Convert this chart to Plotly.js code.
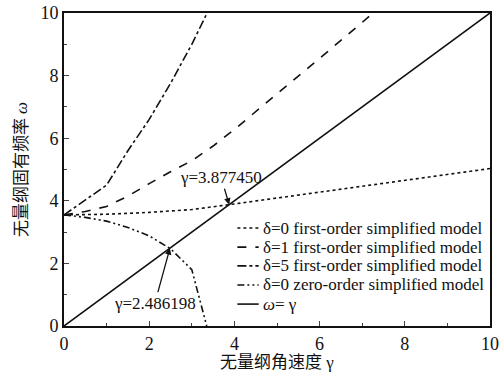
<!DOCTYPE html>
<html>
<head>
<meta charset="utf-8">
<script src="https://cdn.plot.ly/plotly-3.0.1.min.js"></script>
<style>
html,body{margin:0;padding:0;background:#fff;}
#chart{width:499px;height:372px;}
#chart svg text{font-family:"Liberation Serif","Noto Sans CJK SC",serif !important;}
</style>
</head>
<body>
<div id="chart"></div>
<script>
// Data
const gammaD0First = [0, 1, 2, 3, 4, 5, 6, 7, 8, 9, 10];
const omegaD0First = [3.55, 3.57, 3.63, 3.72, 3.9, 4.09, 4.28, 4.47, 4.66, 4.85, 5.03];

const gammaD1First = [0, 0.5, 1, 1.5, 2, 2.5, 3, 3.5, 4, 5, 6, 7, 7.25];
const omegaD1First = [3.55, 3.66, 3.82, 4.15, 4.55, 4.93, 5.28, 5.75, 6.28, 7.4, 8.55, 9.7, 10];

const gammaD5First = [0, 0.5, 1, 1.5, 2, 2.5, 3, 3.36];
const omegaD5First = [3.55, 4.02, 4.5, 5.6, 6.6, 7.75, 9.0, 10];

const gammaD0Zero = [0, 0.5, 1, 1.5, 2, 2.5, 3, 3.35];
const omegaD0Zero = [3.55, 3.47, 3.35, 3.15, 2.88, 2.47, 1.8, 0];

const gammaLine = [0, 10];
const omegaLine = [0, 10];

const seriesNames = [
  "δ=0 first-order simplified model",
  "δ=1 first-order simplified model",
  "δ=5 first-order simplified model",
  "δ=0 zero-order simplified model",
  "<i>ω</i>= γ"
];
const tickValues = [0, 2, 4, 6, 8, 10];
const crossGammaA = 3.877450;
const crossGammaB = 2.486198;
const xTitle = "无量纲角速度 γ";
const yTitle = "无量纲固有频率 <i>ω</i>";

const serif = "Liberation Serif";
const lw = 1.6;
const dashes = ["dot", "dash", "dashdot", "7px,3px,2px,3px,2px,3px", "solid"];
const seriesX = [gammaD0First, gammaD1First, gammaD5First, gammaD0Zero, gammaLine];
const seriesY = [omegaD0First, omegaD1First, omegaD5First, omegaD0Zero, omegaLine];

const traces = seriesX.map((xs, i) => ({
  x: xs, y: seriesY[i], name: seriesNames[i], mode: "lines",
  line: {color: "#111", width: lw, dash: dashes[i]}, showlegend: false
}));

// hand-built legend (paper coordinates of the plot area)
const legendX0 = 0.407, legendX1 = 0.457, legendTextX = 0.462;
const legendRowsY = [0.313, 0.252, 0.192, 0.131, 0.070];
const legendShapes = legendRowsY.map((yy, i) => ({
  type: "line", xref: "paper", yref: "paper", x0: legendX0, x1: legendX1, y0: yy, y1: yy,
  line: {color: "#111", width: lw, dash: dashes[i]}
}));
const legendAnn = legendRowsY.map((yy, i) => ({
  xref: "paper", yref: "paper", x: legendTextX, y: yy, xanchor: "left", yanchor: "middle",
  text: seriesNames[i], showarrow: false, font: {family: serif, size: 17, color: "#111"}
}));

const layout = {
  width: 499, height: 372,
  margin: {l: 64, r: 9, t: 13, b: 46},
  paper_bgcolor: "#fff", plot_bgcolor: "#fff",
  font: {family: serif, color: "#111", size: 18},
  showlegend: false,
  xaxis: {
    range: [0, 10], tickvals: tickValues, ticks: "inside", ticklen: 5, tickwidth: 1.2,
    minor: {dtick: 1, ticks: "inside", ticklen: 3, tickwidth: 1},
    showgrid: false, zeroline: false, showline: true, linewidth: 2, linecolor: "#111", mirror: true,
    tickfont: {family: serif, size: 18, color: "#111"},
    title: {text: xTitle, font: {family: serif, size: 17, color: "#111"}, standoff: 2}
  },
  yaxis: {
    range: [0, 10], tickvals: tickValues, ticks: "inside", ticklen: 5, tickwidth: 1.2,
    minor: {dtick: 1, ticks: "inside", ticklen: 3, tickwidth: 1},
    showgrid: false, zeroline: false, showline: true, linewidth: 2, linecolor: "#111", mirror: true,
    tickfont: {family: serif, size: 18, color: "#111"},
    title: {text: yTitle, font: {family: serif, size: 17, color: "#111"}, standoff: 8}
  },
  shapes: legendShapes,
  annotations: [
    {x: crossGammaA, y: crossGammaA, xref: "x", yref: "y", text: "γ=" + crossGammaA.toFixed(6),
     showarrow: true, ax: -8, ay: -27, arrowhead: 2, arrowsize: 1, arrowwidth: 1.3, arrowcolor: "#111",
     font: {family: serif, size: 17, color: "#111"}},
    {x: crossGammaB, y: crossGammaB, xref: "x", yref: "y", text: "γ=" + crossGammaB.toFixed(6),
     showarrow: true, ax: -15, ay: 55, arrowhead: 2, arrowsize: 1, arrowwidth: 1.3, arrowcolor: "#111",
     font: {family: serif, size: 17, color: "#111"}}
  ].concat(legendAnn)
};

Plotly.newPlot("chart", traces, layout, {displayModeBar: false, staticPlot: true});
</script>
</body>
</html>
